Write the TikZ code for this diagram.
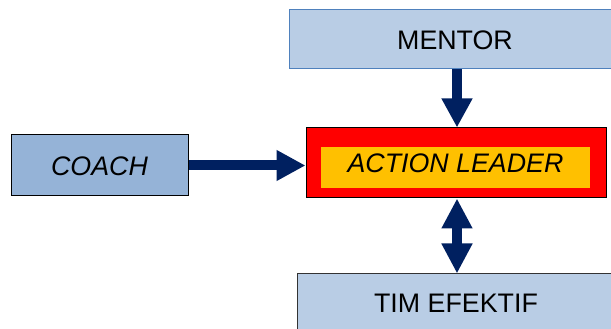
\documentclass[tikz,border=0pt]{standalone}
\usepackage{fontspec}
\setmainfont{Liberation Sans}
\usetikzlibrary{arrows.meta}
\definecolor{navy}{HTML}{002060}
\definecolor{lightblue}{HTML}{B9CDE5}
\definecolor{midblue}{HTML}{95B3D7}
\definecolor{edgeblue}{HTML}{4F81BD}
\definecolor{amber}{HTML}{FFC000}
\begin{document}
\begin{tikzpicture}[x=1pt,y=1pt,
  box/.style={draw, rectangle, line width=1pt, inner sep=0pt,
    font=\fontsize{26.8}{30}\selectfont, text height=19.2pt, text depth=0pt},
  bigarrow/.style={draw=navy, line width=10pt, -{Triangle[width=29pt,length=29pt]}},
  dblarrow/.style={draw=navy, line width=10pt, {Triangle[width=29pt,length=30pt]}-{Triangle[width=29pt,length=30pt]}}]
\useasboundingbox (0,0) rectangle (611,329);
\clip (0,0) rectangle (611,329);
\node[box, draw=edgeblue, fill=lightblue, minimum width=332pt, minimum height=59pt] (mentor) at (455,289.5) {MENTOR};
\node[box, fill=red, minimum width=300pt, minimum height=70pt] (action) at (456,166) {};
\node[box, draw=none, fill=amber, minimum width=269pt, minimum height=41pt, text depth=9.4pt] (inner) at (455.5,161.5) {\itshape ACTION LEADER};
\node[box, fill=midblue, minimum width=177pt, minimum height=61pt] (coach) at (99.5,163.5) {\itshape COACH};
\node[box, draw=black!80, fill=lightblue, minimum width=318pt, minimum height=58pt] (tim) at (456,26) {TIM EFEKTIF};
\draw[bigarrow] ([xshift=1pt]action.north |- mentor.south) -- ([xshift=1pt]action.north);
\draw[bigarrow] (coach.east) -- (coach.east -| action.west);
\draw[dblarrow] ([xshift=1pt]action.south) -- ([xshift=1pt]action.south |- tim.north);
\end{tikzpicture}
\end{document}
